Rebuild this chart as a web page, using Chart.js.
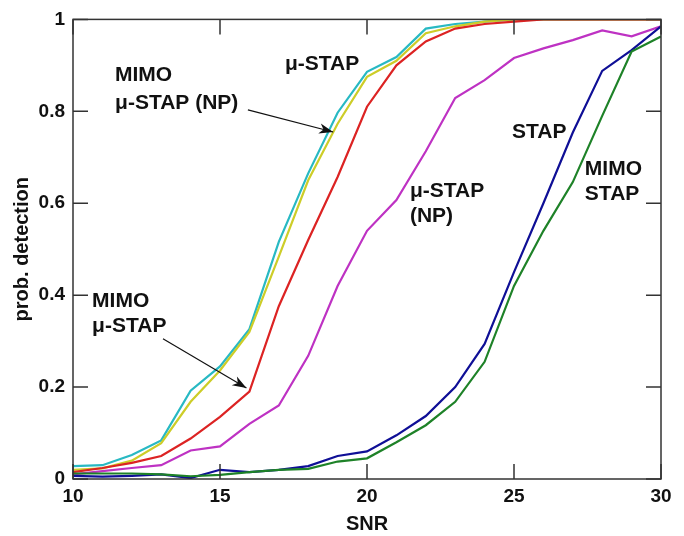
<!DOCTYPE html>
<html>
<head>
  <meta charset="UTF-8">
  <title>prob. detection vs SNR</title>
  <script src="https://cdn.jsdelivr.net/npm/chart.js"></script>
  <style>
    body { margin: 0; background: #fff; }
    #wrap { width: 684px; height: 536px; }
  </style>
</head>
<body>
  <div id="wrap"><canvas id="chart" width="684" height="536"></canvas></div>
  <script>
    const snr = [10, 11, 12, 13, 14, 15, 16, 17, 18, 19, 20, 21, 22, 23, 24, 25, 26, 27, 28, 29, 30];

    const muStap     = [0.028, 0.03, 0.052, 0.084, 0.192, 0.245, 0.326, 0.516, 0.665, 0.797, 0.886, 0.918, 0.98, 0.99, 0.995, 1, 1, 1, 1, 1, 1];
    const mimoMuNP   = [0.02, 0.023, 0.04, 0.078, 0.168, 0.236, 0.32, 0.484, 0.65, 0.773, 0.875, 0.91, 0.97, 0.985, 0.995, 1, 1, 1, 1, 1, 1];
    const mimoMu     = [0.015, 0.024, 0.035, 0.05, 0.088, 0.135, 0.19, 0.376, 0.52, 0.657, 0.81, 0.9, 0.952, 0.98, 0.99, 0.995, 1, 1, 1, 1, 1];
    const muStapNP   = [0.01, 0.017, 0.024, 0.03, 0.062, 0.071, 0.12, 0.16, 0.268, 0.42, 0.54, 0.607, 0.713, 0.829, 0.868, 0.916, 0.937, 0.955, 0.976, 0.963, 0.985];
    const stap       = [0.007, 0.005, 0.007, 0.01, 0.002, 0.02, 0.015, 0.02, 0.028, 0.05, 0.06, 0.095, 0.137, 0.2, 0.294, 0.45, 0.6, 0.754, 0.888, 0.933, 0.985];
    const mimoStap   = [0.012, 0.012, 0.012, 0.01, 0.006, 0.009, 0.015, 0.02, 0.022, 0.038, 0.045, 0.08, 0.117, 0.168, 0.255, 0.42, 0.54, 0.646, 0.79, 0.93, 0.963];

    const xTicks = [10, 15, 20, 25, 30];
    const yTicks = [0, 0.2, 0.4, 0.6, 0.8, 1];

    // text labels placed in data units: [lines, snr, value of first baseline, line gap px]
    const labels = [
      [['MIMO', 'μ-STAP (NP)'], 11.43, 0.866, 28],
      [['μ-STAP'], 17.21, 0.89, 0],
      [['MIMO', 'μ-STAP'], 10.65, 0.374, 25],
      [['μ-STAP', '(NP)'], 21.46, 0.613, 25],
      [['STAP'], 24.93, 0.741, 0],
      [['MIMO', 'STAP'], 27.41, 0.661, 25]
    ];
    // arrows: [fromSnr, fromVal, toSnr, toVal]
    const arrows = [
      [15.95, 0.803, 18.85, 0.755],
      [13.06, 0.305, 15.9, 0.198]
    ];

    const FONT = '"Liberation Sans", Arial, sans-serif';

    const toXY = arr => arr.map((v, i) => ({ x: snr[i], y: v }));

    const line = (data, color) => ({
      data: toXY(data),
      borderColor: color,
      borderWidth: 2.2,
      pointRadius: 0,
      tension: 0,
      fill: false
    });

    const matlabAxes = {
      id: 'matlabAxes',
      afterDraw(chart) {
        const { ctx, chartArea: a, scales: { x, y } } = chart;
        const tl = 15;
        ctx.save();
        ctx.strokeStyle = '#333';
        ctx.lineWidth = 1.5;
        ctx.beginPath();
        xTicks.forEach(t => {
          const px = x.getPixelForValue(t);
          ctx.moveTo(px, a.bottom); ctx.lineTo(px, a.bottom - tl);
          ctx.moveTo(px, a.top); ctx.lineTo(px, a.top + tl);
        });
        yTicks.forEach(t => {
          const py = y.getPixelForValue(t);
          ctx.moveTo(a.left, py); ctx.lineTo(a.left + tl, py);
          ctx.moveTo(a.right, py); ctx.lineTo(a.right - tl, py);
        });
        ctx.stroke();
        ctx.strokeRect(a.left, a.top, a.right - a.left, a.bottom - a.top);

        // labels
        ctx.fillStyle = '#111';
        ctx.font = 'bold 21px ' + FONT;
        ctx.textBaseline = 'alphabetic';
        labels.forEach(([lines, sx, sv, gap]) => {
          const px = x.getPixelForValue(sx);
          const py = y.getPixelForValue(sv);
          lines.forEach((txt, i) => ctx.fillText(txt, px, py + i * gap));
        });

        // arrows
        ctx.strokeStyle = '#111';
        ctx.lineWidth = 1.2;
        arrows.forEach(([x0, y0, x1, y1]) => {
          const ax = x.getPixelForValue(x0), ay = y.getPixelForValue(y0);
          const bx = x.getPixelForValue(x1), by = y.getPixelForValue(y1);
          const ang = Math.atan2(by - ay, bx - ax);
          ctx.beginPath();
          ctx.moveTo(ax, ay); ctx.lineTo(bx, by);
          ctx.stroke();
          ctx.beginPath();
          ctx.moveTo(bx, by);
          ctx.lineTo(bx - 15 * Math.cos(ang - 0.35), by - 15 * Math.sin(ang - 0.35));
          ctx.lineTo(bx - 10 * Math.cos(ang), by - 10 * Math.sin(ang));
          ctx.lineTo(bx - 15 * Math.cos(ang + 0.35), by - 15 * Math.sin(ang + 0.35));
          ctx.closePath();
          ctx.fill();
        });
        ctx.restore();
      }
    };

    new Chart(document.getElementById('chart'), {
      type: 'line',
      data: {
        datasets: [
          line(mimoStap, 'rgb(30,130,40)'),
          line(stap, 'rgb(15,15,150)'),
          line(muStapNP, 'rgb(190,50,195)'),
          line(mimoMu, 'rgb(220,35,35)'),
          line(mimoMuNP, 'rgb(205,205,40)'),
          line(muStap, 'rgb(40,185,195)')
        ]
      },
      options: {
        responsive: false,
        animation: false,
        layout: { padding: { top: 16, right: 23, left: 0, bottom: 0 } },
        plugins: { legend: { display: false }, tooltip: { enabled: false } },
        scales: {
          x: {
            type: 'linear',
            min: 10,
            max: 30,
            afterFit: s => { s.height = 57; },
            afterBuildTicks: s => { s.ticks = xTicks.map(v => ({ value: v })); },
            grid: { display: false, drawTicks: false, tickLength: 0 },
            border: { display: false },
            ticks: { color: '#111', padding: 6, maxRotation: 0, font: { family: FONT, size: 19, weight: 'bold' } },
            title: { display: true, text: 'SNR', color: '#111', padding: { top: 0, bottom: 0 }, font: { family: FONT, size: 20, weight: 'bold' } }
          },
          y: {
            min: 0,
            max: 1,
            afterFit: s => { s.width = 73; },
            afterBuildTicks: s => { s.ticks = yTicks.map(v => ({ value: v })); },
            grid: { display: false, drawTicks: false, tickLength: 0 },
            border: { display: false },
            ticks: {
              color: '#111',
              padding: 8,
              font: { family: FONT, size: 19, weight: 'bold' },
              callback: v => (v === 0 || v === 1) ? String(v) : v.toFixed(1)
            },
            title: { display: true, text: 'prob. detection', color: '#111', padding: { top: 10, bottom: 10 }, font: { family: FONT, size: 20, weight: 'bold' } }
          }
        }
      },
      plugins: [matlabAxes]
    });
  </script>
</body>
</html>
